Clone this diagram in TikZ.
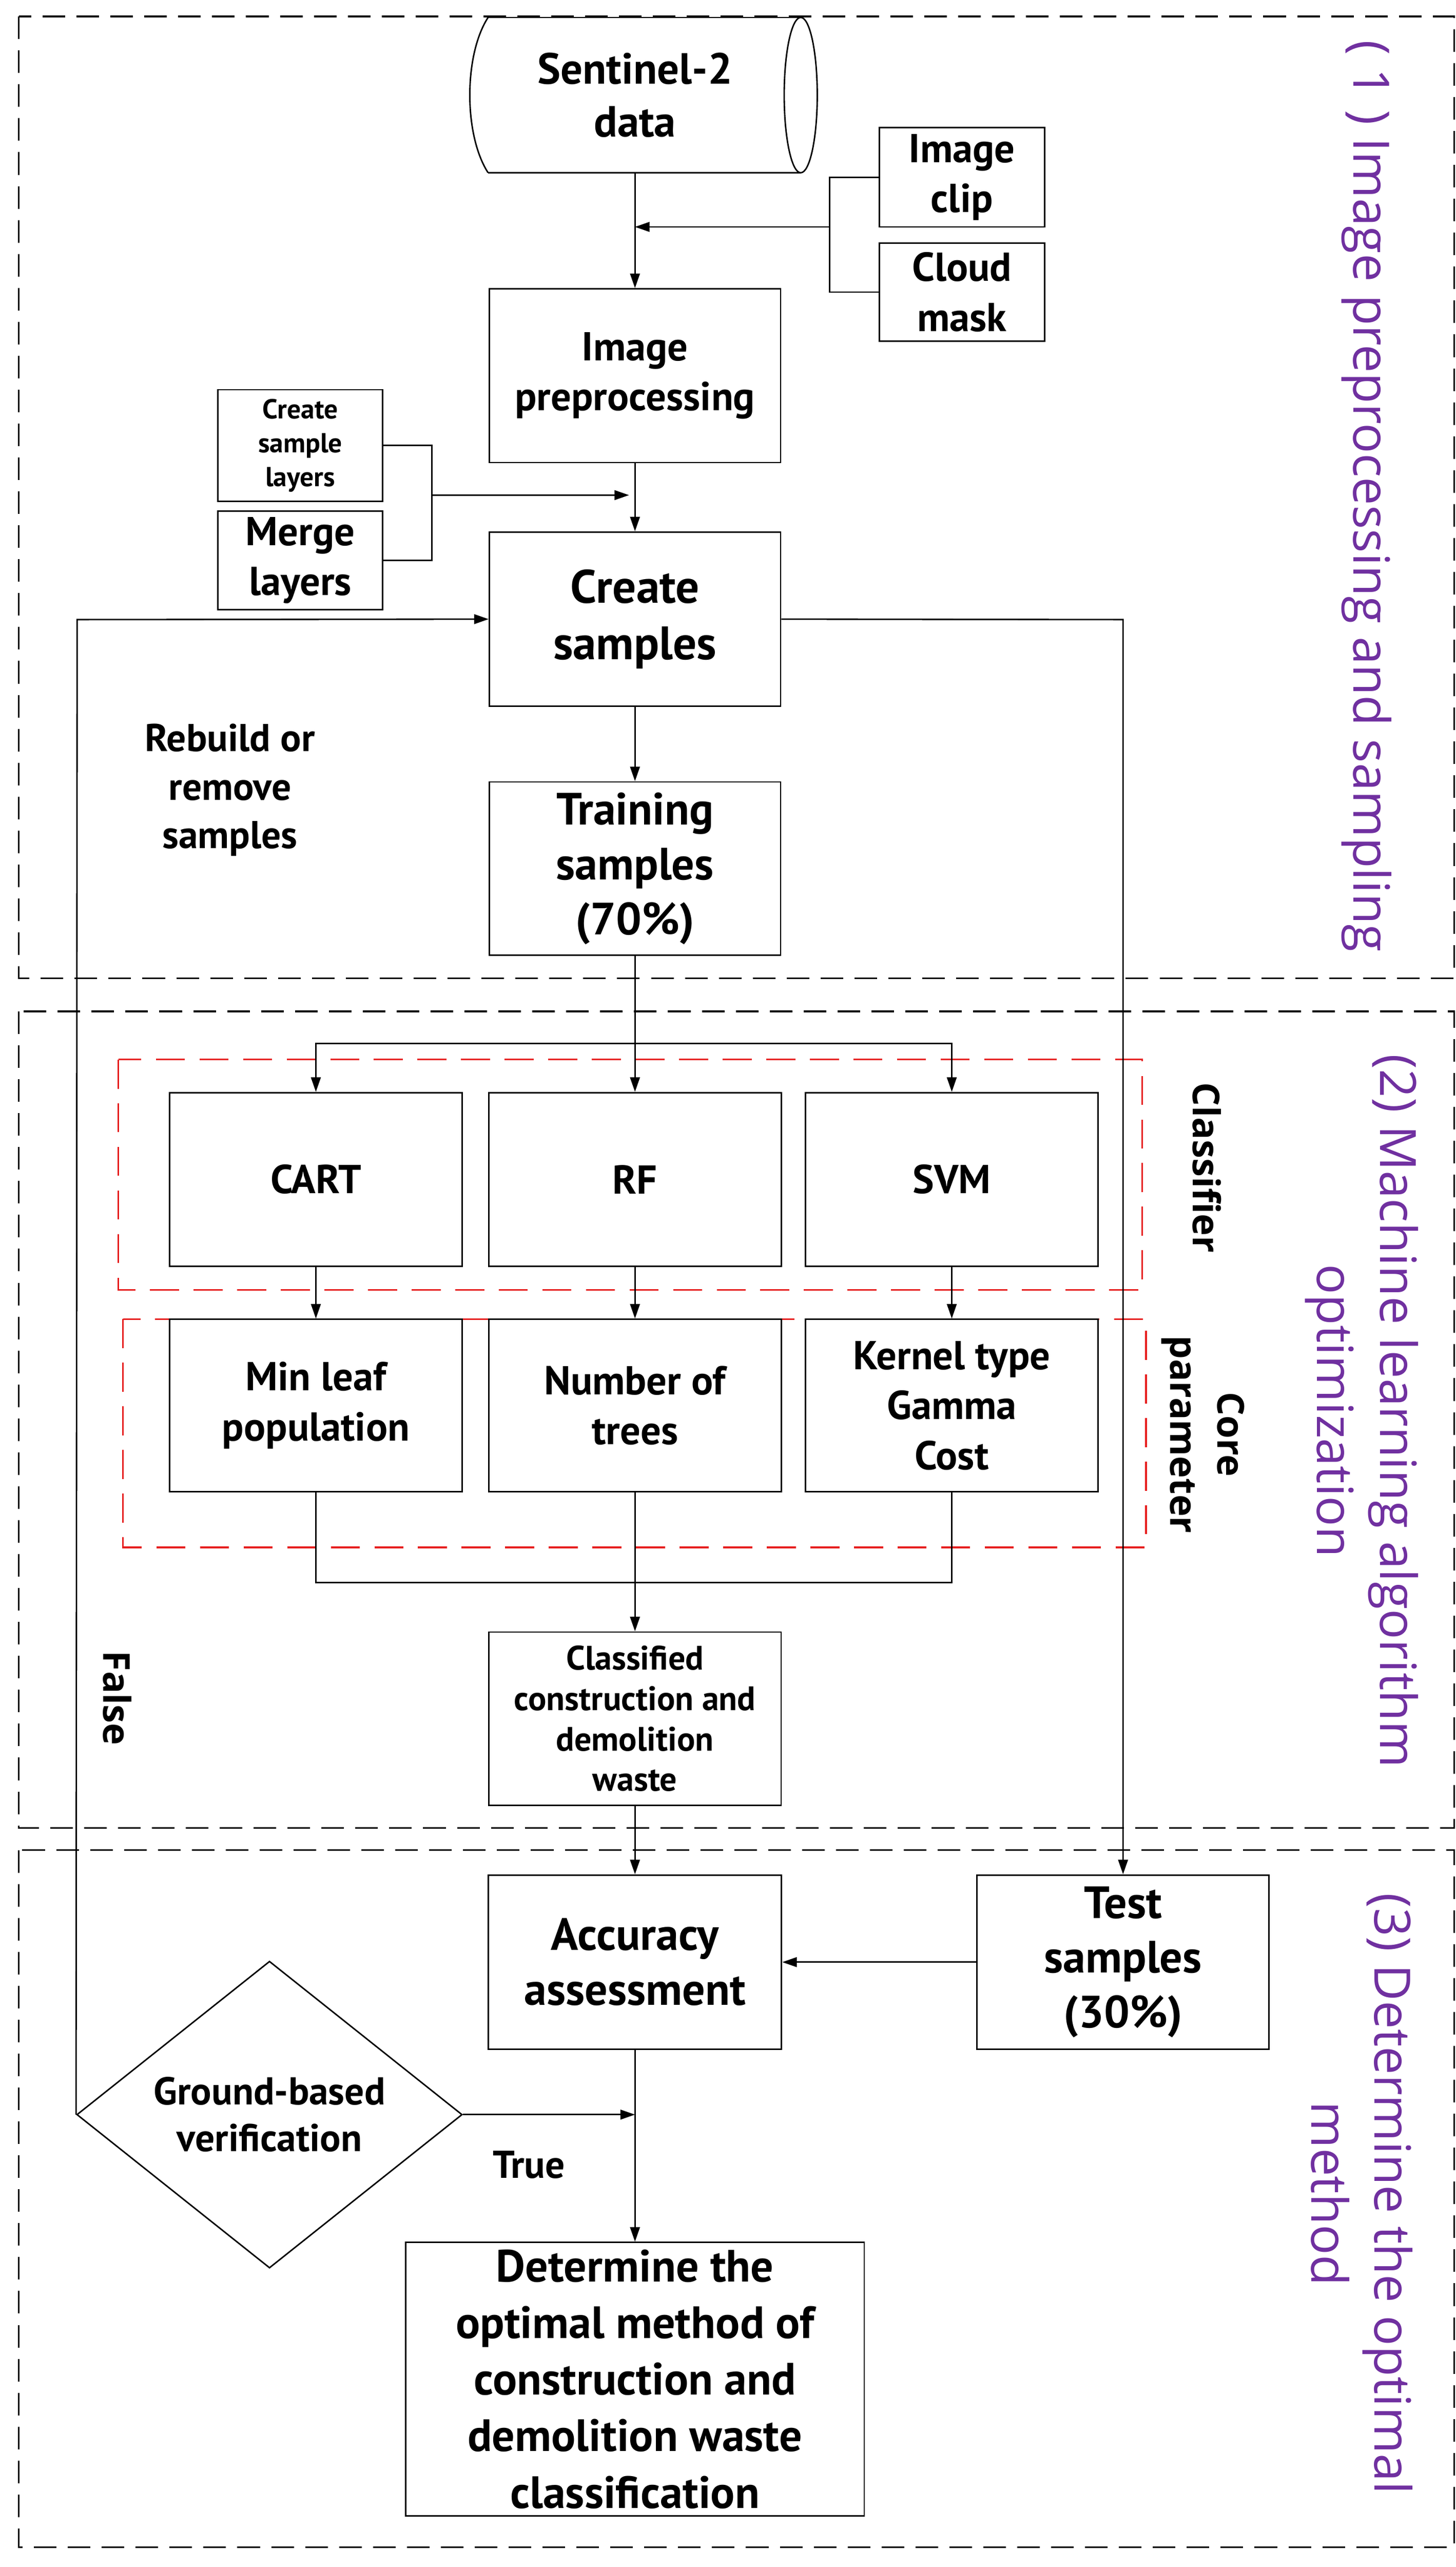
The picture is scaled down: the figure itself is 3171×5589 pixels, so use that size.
\documentclass[tikz,border=0pt]{standalone}
\usepackage{fontspec}
\setmainfont{PT Sans}
\newfontfamily\lab{Open Sans}
\usetikzlibrary{shapes.geometric,arrows.meta}
\definecolor{purp}{RGB}{112,48,160}
\begin{document}
\begin{tikzpicture}[x=0.01cm,y=-0.01cm,line width=0.9pt,
 box/.style={draw,align=center,font=\fontsize{25}{31}\selectfont\bfseries,inner sep=0pt},
 sbox/.style={box,font=\fontsize{17}{21}\selectfont\bfseries},
 arr/.style={-{Triangle[length=9pt,width=6pt]}},
 outer/.style={dash pattern=on 14pt off 7pt,line width=1.1pt},
 red/.style={draw={rgb,255:red,230;green,30;blue,30},dash pattern=on 18pt off 9pt,line width=1pt},
 lbl/.style={font=\lab\fontsize{31}{39}\selectfont,text=purp,rotate=-90,align=center},
 blbl/.style={font=\lab\fontsize{23}{29}\selectfont\bfseries,rotate=-90,align=center}]
\useasboundingbox (0,0) rectangle (3171,5589);
% outer
\draw[outer] (41,36) rectangle (3167,2130);
\draw[outer] (41,2202) rectangle (3167,3980);
\draw[outer] (41,4028) rectangle (3167,5546);
\draw[red] (258,2307) rectangle (2488,2808);
\draw[red] (268,2872) rectangle (2496,3369);
% cylinder
\draw (1063,38) -- (1744,38);
\draw (1063,376) -- (1744,376);
\draw (1063,38) .. controls (1010,120) and (1010,294) .. (1063,376);
\draw (1744,207) ellipse [x radius=0.36cm,y radius=1.69cm];
\node[font=\fontsize{27}{33}\selectfont\bfseries,align=center] (sen) at (1383,207) {Sentinel-2\\data};
\coordinate (senb) at (1383,376);
% nodes
\node[box,minimum width=3.60cm,minimum height=2.16cm] (clip) at (2095,386) {Image\\clip};
\node[box,minimum width=3.60cm,minimum height=2.13cm] (cloud) at (2095,636) {Cloud\\mask};
\node[box,minimum width=6.34cm,minimum height=3.78cm] (prep) at (1383,818) {Image\\preprocessing};
\node[sbox,minimum width=3.58cm,minimum height=2.43cm] (csl) at (654,970) {Create\\sample\\layers};
\node[box,minimum width=3.58cm,minimum height=2.14cm] (merge) at (654,1220) {Merge\\layers};
\node[box,minimum width=6.34cm,minimum height=3.79cm,font=\fontsize{29}{35}\selectfont\bfseries] (cs) at (1383,1348) {Create\\samples};
\node[box,minimum width=6.34cm,minimum height=3.77cm,font=\fontsize{28}{34}\selectfont\bfseries] (train) at (1383,1891) {Training\\samples\\(70\%)};
\node[box,minimum width=6.37cm,minimum height=3.78cm] (cart) at (688,2568) {CART};
\node[box,minimum width=6.37cm,minimum height=3.78cm] (rf) at (1383,2568) {RF};
\node[box,minimum width=6.37cm,minimum height=3.78cm] (svm) at (2073,2568) {SVM};
\node[box,minimum width=6.37cm,minimum height=3.75cm] (p1) at (688,3060) {Min leaf\\population};
\node[box,minimum width=6.37cm,minimum height=3.75cm] (p2) at (1383,3060) {Number of\\trees};
\node[box,minimum width=6.37cm,minimum height=3.75cm] (p3) at (2073,3060) {Kernel type\\Gamma\\Cost};
\node[box,minimum width=6.36cm,minimum height=3.77cm,font=\fontsize{21}{25}\selectfont\bfseries] (cls) at (1383,3742) {Classified\\construction and\\demolition\\waste};
\node[box,minimum width=6.38cm,minimum height=3.79cm,font=\fontsize{28}{34}\selectfont\bfseries] (acc) at (1383,4272) {Accuracy\\assessment};
\node[box,minimum width=6.36cm,minimum height=3.79cm,font=\fontsize{28}{34}\selectfont\bfseries] (test) at (2446,4272) {Test\\samples\\(30\%)};
\node[draw,diamond,minimum width=8.39cm,minimum height=4.96cm,inner sep=0pt,align=center,font=\fontsize{24}{29}\selectfont\bfseries] (gb) at (587,4604) {Ground-based\\verification};
\node[box,minimum width=9.98cm,minimum height=5.95cm,font=\fontsize{28}{35}\selectfont\bfseries] (det) at (1383,5180) {Determine the\\optimal method of\\construction and\\demolition waste\\classification};
% texts
\node[font=\fontsize{24}{30}\selectfont\bfseries,align=center] (rb) at (501,1720) {Rebuild or\\remove\\samples};
\node[blbl] (fl) at (256,3697) {False};
\node[font=\fontsize{24}{29}\selectfont\bfseries] (tr) at (1152,4713) {True};
\node[blbl] (clf) at (2629,2542) {Classifier};
\node[blbl] (core) at (2620,3123) {Core\\parameter};
\node[lbl] (l1) at (2977,1080) {( 1 ) Image preprocessing and sampling};
\node[lbl] (l2) at (2966,3072) {(2) Machine learning algorithm\\optimization};
\node[lbl] (l3) at (2966,4776) {(3) Determine the optimal\\method};
% connectors
\coordinate (j1) at (1807,494);
\coordinate (m1) at (1383,494);
\draw[arr] (senb) -- (prep.north);
\draw (clip.west) -| (j1);
\draw (cloud.west) -| (j1);
\draw[arr] (j1) -- (m1);
\coordinate (j2) at (941,1078);
\coordinate (m2) at (1370,1078);
\draw (csl.east) -| (j2);
\draw (merge.east) -| (j2);
\draw[arr] (j2) -- (m2);
\draw[arr] (prep.south) -- (cs.north);
\draw[arr] (cs.south) -- (train.north);
\coordinate (b1) at (1383,2272);
\draw (train.south) -- (b1);
\draw[arr] (b1) -| (cart.north);
\draw[arr] (b1) -- (rf.north);
\draw[arr] (b1) -| (svm.north);
\draw[arr] (cart.south) -- (p1.north);
\draw[arr] (rf.south) -- (p2.north);
\draw[arr] (svm.south) -- (p3.north);
\coordinate (b2) at (1383,3446);
\draw (p1.south) |- (b2);
\draw (p3.south) |- (b2);
\draw[arr] (p2.south) -- (cls.north);
\draw[arr] (cls.south) -- (acc.north);
\coordinate (r1) at (2446,1349);
\draw[arr] (cs.east) -- (r1) -- (test.north);
\draw[arr] (test.west) -- (acc.east);
\draw[arr] (acc.south) -- (det.north);
\coordinate (m3) at (1383,4604);
\draw[arr] (gb.east) -- (m3);
\coordinate (l0) at (168,1349);
\draw[arr] (gb.west) -- (l0) -- (cs.west);
\end{tikzpicture}
\end{document}
